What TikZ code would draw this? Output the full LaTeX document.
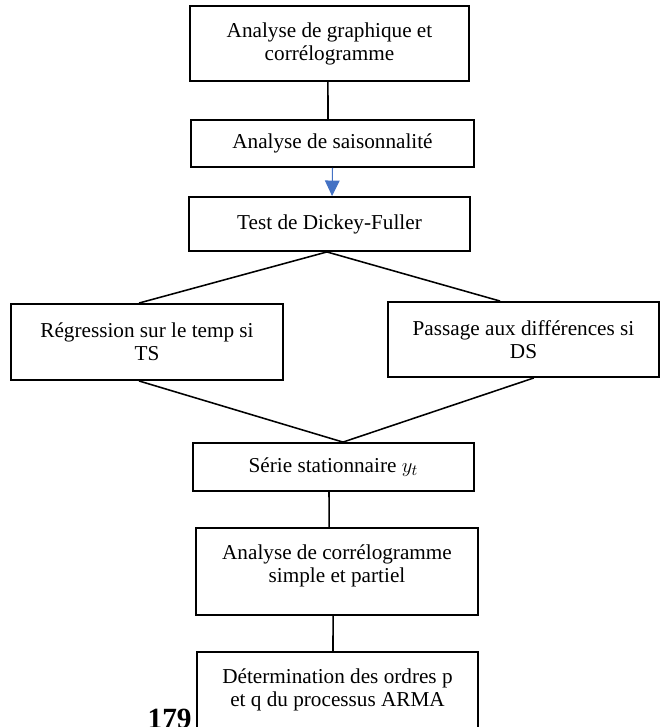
\documentclass[tikz,border=0pt]{standalone}
\usepackage{fontspec}
\setmainfont{Liberation Serif}
\usetikzlibrary{arrows.meta}
\definecolor{arrowblue}{RGB}{68,114,196}
\begin{document}
\begin{tikzpicture}[x=0.58pt,y=-0.58pt,
  box/.style={draw,line width=1.1pt,align=center,inner sep=2pt,
    font=\fontsize{12.3}{13.4}\selectfont},
  topbox/.style={box,anchor=north,inner ysep=9.5pt},
  link/.style={line width=0.9pt}]
\clip (0,0) rectangle (660,727);
\node[box,minimum width=161.8pt,minimum height=43.5pt] (graph) at (329.5,43.5)
  {Analyse de graphique et\\corrélogramme};
\node[box,minimum width=164.1pt,minimum height=27.3pt] (saison) at (332.5,143.5)
  {Analyse de saisonnalité};
\node[box,minimum width=163pt,minimum height=31.3pt] (dickey) at (329.5,224)
  {Test de Dickey-Fuller};
\node[box,minimum width=157.8pt,minimum height=44.1pt] (regr) at (147,342)
  {Régression sur le temp si\\TS};
\node[box,minimum width=157.2pt,minimum height=43.5pt] (diff) at (523.5,339.5)
  {Passage aux différences si\\DS};
\node[box,minimum width=163pt,minimum height=27.8pt] (serie) at (333.5,467)
  {Série stationnaire $y_t$};
\node[topbox,minimum width=163.6pt,text depth=9.4pt] (correl) at (337,527)
  {Analyse de corrélogramme\\simple et partiel};
\node[topbox,minimum width=163pt,text depth=60pt] (ordres) at (337.5,651)
  {Détermination des ordres p\\et q du processus ARMA};
\node[anchor=base east,inner sep=0pt,font=\fontsize{17}{20}\selectfont\bfseries] (page) at (192,728) {179};
\draw[link] ([xshift=-0.9pt]graph.south) -- ([xshift=-2.6pt]saison.north);
\draw[arrowblue,line width=0.6pt,-{Triangle[width=8.5pt,length=9pt]}]
  (saison.south) -- ([xshift=1.5pt]dickey.north);
\draw[link] ([xshift=-1.5pt]dickey.south) -- ([xshift=-4.6pt]regr.north);
\draw[link] ([xshift=-1.5pt]dickey.south) -- ([xshift=-13.6pt]diff.north);
\draw[link] ([xshift=-4.6pt]regr.south) -- ([xshift=5.5pt]serie.north);
\draw[link] ([xshift=6pt]diff.south) -- ([xshift=5.5pt]serie.north);
\draw[link] ([xshift=-2.6pt]serie.south) -- ([xshift=-4.6pt]correl.north);
\draw[link] ([xshift=-2.3pt]correl.south) -- ([xshift=-2.6pt]ordres.north);
\end{tikzpicture}
\end{document}
